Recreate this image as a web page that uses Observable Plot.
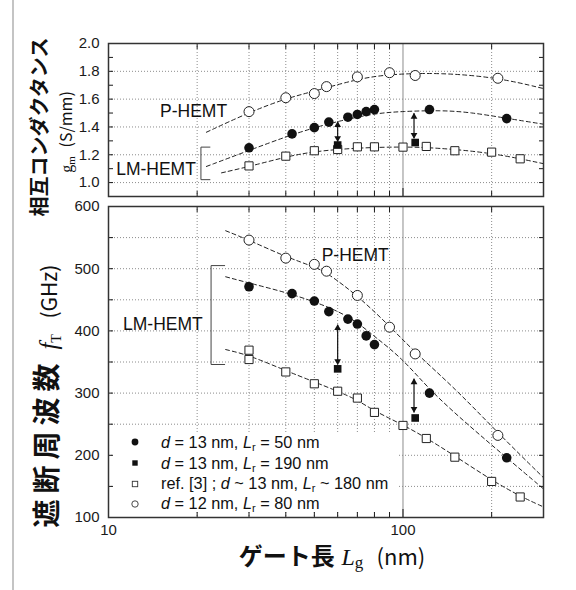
<!DOCTYPE html>
<html><head><meta charset="utf-8">
<script src="https://cdn.jsdelivr.net/npm/d3@7"></script>
<script src="https://cdn.jsdelivr.net/npm/@observablehq/plot@0.6"></script>
<style>
body{margin:0;background:#fff;}
#fig{position:relative;width:576px;height:590px;overflow:hidden;font-family:"Liberation Sans",Arial,sans-serif;color:#111;background:#fff;}
.rot{position:absolute;transform:translate(-50%,-50%) rotate(-90deg);white-space:nowrap;line-height:1;}
.abs{position:absolute;white-space:nowrap;line-height:1;}
.cjk{font-family:"Noto Sans CJK JP",sans-serif;}
.serif{font-family:"Liberation Serif",serif;}
.sub{font-size:68%;position:relative;top:0.3em;}
#legend{position:absolute;left:113px;top:432px;width:284px;height:79px;background:#fff;font-size:16.3px;}
#legend .row{position:absolute;left:0;height:18px;display:flex;align-items:center;}
#legend svg{margin-left:17px;margin-right:21px;}
</style></head><body><div id="fig"></div>
<script>
// ---------- data ----------
// gate length Lg (nm) on x; transconductance gm (S/mm) top; cutoff frequency fT (GHz) bottom
const gmOpenCircleX = [30, 40, 50, 55, 70, 90, 110, 210];
const gmOpenCircleY = [1.51, 1.61, 1.64, 1.69, 1.76, 1.79, 1.77, 1.75];
const gmFilledCircleX = [30, 42, 50, 56, 65, 70, 75, 80, 123, 225];
const gmFilledCircleY = [1.25, 1.35, 1.395, 1.435, 1.47, 1.49, 1.51, 1.525, 1.525, 1.46];
const gmFilledSquareX = [60, 110];
const gmFilledSquareY = [1.27, 1.288];
const gmOpenSquareX = [30, 40, 50, 60, 70, 80, 100, 120, 150, 200, 250];
const gmOpenSquareY = [1.12, 1.19, 1.229, 1.238, 1.257, 1.257, 1.255, 1.26, 1.229, 1.219, 1.171];

const gmFitPX = [21.5, 30, 40, 50, 70, 90, 135, 210, 300];
const gmFitPY = [1.362, 1.505, 1.605, 1.657, 1.745, 1.78, 1.79, 1.755, 1.676];
const gmFitLMX = [21.5, 30, 40, 50, 60, 80, 100, 135, 170, 225, 300];
const gmFitLMY = [1.116, 1.231, 1.33, 1.395, 1.44, 1.498, 1.512, 1.52, 1.505, 1.462, 1.42];
const gmFitRefX = [24.2, 30, 40, 50, 70, 100, 130, 200, 300];
const gmFitRefY = [1.07, 1.115, 1.185, 1.225, 1.25, 1.258, 1.25, 1.215, 1.136];

const gmArrowX = [60, 109];
const gmArrowTop = [1.438, 1.498];
const gmArrowBottom = [1.295, 1.319];

const ftOpenCircleX = [30, 40, 50, 55, 70, 90, 110, 210];
const ftOpenCircleY = [546, 517, 507, 496, 457, 406, 363, 232];
const ftFilledCircleX = [30, 42, 50, 56, 65, 70, 75, 80, 123, 225];
const ftFilledCircleY = [471, 460, 448, 431, 419, 411, 392, 378, 300, 196];
const ftFilledSquareX = [60, 110];
const ftFilledSquareY = [339, 260];
const ftOpenSquareX = [30, 30, 40, 50, 60, 70, 80, 100, 120, 150, 200, 250];
const ftOpenSquareY = [369, 354, 334, 315, 303, 292, 269, 248, 227, 197, 158, 133];

const ftFitPX = [25, 30, 40, 50, 55, 70, 90, 110, 150, 210, 300];
const ftFitPY = [561, 546, 519, 503, 494, 457, 408, 365, 308, 236, 164];
const ftFitLMX = [25, 30, 40, 50, 60, 70, 80, 100, 124, 170, 225, 300];
const ftFitLMY = [487, 477, 462, 447, 432, 414, 391, 355, 303, 245, 196, 146];
const ftFitRefX = [25, 30, 40, 50, 60, 70, 80, 100, 120, 150, 200, 250, 300];
const ftFitRefY = [370, 361, 336, 318, 303, 289, 271, 249, 228, 199, 160, 134, 117];

const ftArrowX = [60, 109];
const ftArrowTop = [410, 323];
const ftArrowBottom = [346, 269];

// annotations (data coordinates)
const gmLabels = ["P-HEMT", "LM-HEMT"];
const gmLabelX = [19.45, 14.5];
const gmLabelY = [1.509, 1.093];
const gmBracketX = [22.1, 20.6, 20.6, 22.1];
const gmBracketY = [1.255, 1.255, 1.021, 1.021];
const ftLabels = ["P-HEMT", "LM-HEMT"];
const ftLabelX = [68.8, 15.3];
const ftLabelY = [521, 411];
const ftBracketX = [24.8, 22.3, 22.3, 24.8];
const ftBracketY = [505, 505, 346, 346];

// ticks
const xGridTicks = [20, 30, 40, 50, 60, 70, 80, 90, 200];
const xLabelTicks = [10, 100];
const gmLabelTicks = [1.0, 1.2, 1.4, 1.6, 1.8, 2.0];
const gmMinorTicks = [1.0, 1.1, 1.2, 1.3, 1.4, 1.5, 1.6, 1.7, 1.8, 1.9];
const gmGridTicks = [1.0, 1.2, 1.4, 1.6, 1.8];
const ftLabelTicks = [100, 200, 300, 400, 500, 600];
const ftMinorTicks = [150, 200, 250, 300, 350, 400, 450, 500, 550];
const ftGridTicks = [150, 200, 250, 300, 350, 400, 450, 500, 550];

const legendItems = [
  {sym: "filledCircle", html: '<i>d</i> = 13 nm, <i>L</i><span class="sub">r</span> = 50 nm'},
  {sym: "filledSquare", html: '<i>d</i> = 13 nm, <i>L</i><span class="sub">r</span> = 190 nm'},
  {sym: "openSquare", html: 'ref. [3] ; <i>d</i> ~ 13 nm, <i>L</i><span class="sub">r</span> ~ 180 nm'},
  {sym: "openCircle", html: '<i>d</i> = 12 nm, <i>L</i><span class="sub">r</span> = 80 nm'}
];

// ---------- drawing ----------
const W = 576;
const fig = document.getElementById("fig");
const gridStyle = {stroke: "#8c8c8c", strokeOpacity: 1, strokeWidth: 1, strokeDasharray: "1,2"};
const fitStyle = {stroke: "#222", strokeWidth: 1, strokeDasharray: "4,3", curve: "basis"};
const plotStyle = {fontFamily: '"Liberation Sans", Arial, sans-serif', fontSize: "15px", color: "#1a1a1a", background: "transparent", overflow: "visible"};

function arrowMarks(xs, y1s, y2s) {
  return [
    Plot.link(xs, {x1: xs, x2: xs, y1: y1s, y2: y2s, stroke: "#111", strokeWidth: 1.2}),
    Plot.dot(xs, {x: xs, y: y1s, symbol: "triangle", r: 2.5, fill: "#111", stroke: "none", dy: 3.4}),
    Plot.dot(xs, {x: xs, y: y2s, symbol: "triangle", r: 2.5, fill: "#111", stroke: "none", dy: -3.4, rotate: 180})
  ];
}
function dotMarks(oc, ocY, fc, fcY, fs, fsY, os, osY) {
  return [
    Plot.dot(os, {x: os, y: osY, symbol: "square", r: 4.6, fill: "white", stroke: "#222", strokeWidth: 1}),
    Plot.dot(fs, {x: fs, y: fsY, symbol: "square", r: 4.3, fill: "#111", stroke: "none"}),
    Plot.dot(oc, {x: oc, y: ocY, r: 5, fill: "white", stroke: "#222", strokeWidth: 1}),
    Plot.dot(fc, {x: fc, y: fcY, r: 4.8, fill: "#111", stroke: "none"})
  ];
}
function frameTicks(yMinor) {
  const blank = () => "";
  return [
    Plot.axisY(yMinor, {anchor: "left", tickSize: 5, dx: 5, tickFormat: blank, label: null}),
    Plot.axisY(yMinor, {anchor: "right", tickSize: 5, dx: -5, tickFormat: blank, label: null}),
    Plot.axisX(xGridTicks, {anchor: "bottom", tickSize: 5, dy: -5, tickFormat: blank, label: null}),
    Plot.axisX([100], {anchor: "bottom", tickSize: 8, dy: -8, tickFormat: blank, label: null}),
    Plot.axisX(xGridTicks, {anchor: "top", tickSize: 5, dy: 5, tickFormat: blank, label: null})
  ];
}

const topPlot = Plot.plot({
  width: W, height: 200, marginLeft: 108, marginRight: 33, marginTop: 43, marginBottom: 4,
  x: {type: "log", domain: [10, 300]},
  y: {domain: [0.9, 2.0]},
  style: plotStyle,
  marks: [
    Plot.gridX(xGridTicks, gridStyle),
    Plot.gridY(gmGridTicks, gridStyle),
    Plot.ruleX([100], {stroke: "#8c8c8c", strokeWidth: 1}),
    Plot.line(gmFitPX, {x: gmFitPX, y: gmFitPY, ...fitStyle}),
    Plot.line(gmFitLMX, {x: gmFitLMX, y: gmFitLMY, ...fitStyle}),
    Plot.line(gmFitRefX, {x: gmFitRefX, y: gmFitRefY, ...fitStyle}),
    Plot.line(gmBracketX, {x: gmBracketX, y: gmBracketY, stroke: "#444", strokeWidth: 1, curve: "linear"}),
    Plot.text(gmLabels, {x: gmLabelX, y: gmLabelY, text: gmLabels, fontSize: 17.5, fill: "#111"}),
    ...arrowMarks(gmArrowX, gmArrowTop, gmArrowBottom),
    ...dotMarks(gmOpenCircleX, gmOpenCircleY, gmFilledCircleX, gmFilledCircleY, gmFilledSquareX, gmFilledSquareY, gmOpenSquareX, gmOpenSquareY),
    Plot.axisY(gmLabelTicks, {anchor: "left", tickSize: 0, tickPadding: 9, tickFormat: d => d.toFixed(1), label: null}),
    ...frameTicks(gmMinorTicks),
    Plot.frame({stroke: "#333", strokeWidth: 1.5})
  ]
});

const bottomPlot = Plot.plot({
  width: W, height: 390, marginLeft: 108, marginRight: 33, marginTop: 6, marginBottom: 73,
  x: {type: "log", domain: [10, 300]},
  y: {domain: [100, 600]},
  style: plotStyle,
  marks: [
    Plot.gridX(xGridTicks, gridStyle),
    Plot.gridY(ftGridTicks, gridStyle),
    Plot.ruleX([100], {stroke: "#8c8c8c", strokeWidth: 1}),
    Plot.line(ftFitPX, {x: ftFitPX, y: ftFitPY, ...fitStyle}),
    Plot.line(ftFitLMX, {x: ftFitLMX, y: ftFitLMY, ...fitStyle}),
    Plot.line(ftFitRefX, {x: ftFitRefX, y: ftFitRefY, ...fitStyle}),
    Plot.line(ftBracketX, {x: ftBracketX, y: ftBracketY, stroke: "#444", strokeWidth: 1, curve: "linear"}),
    Plot.text(ftLabels, {x: ftLabelX, y: ftLabelY, text: ftLabels, fontSize: 17.5, fill: "#111"}),
    ...arrowMarks(ftArrowX, ftArrowTop, ftArrowBottom),
    ...dotMarks(ftOpenCircleX, ftOpenCircleY, ftFilledCircleX, ftFilledCircleY, ftFilledSquareX, ftFilledSquareY, ftOpenSquareX, ftOpenSquareY),
    Plot.axisY(ftLabelTicks, {anchor: "left", tickSize: 0, tickPadding: 9, label: null}),
    Plot.axisX(xLabelTicks, {anchor: "bottom", tickSize: 0, tickPadding: 7, tickFormat: d => String(d), label: null}),
    ...frameTicks(ftMinorTicks),
    Plot.frame({stroke: "#333", strokeWidth: 1.5})
  ]
});

function place(el, top) {
  el.style.position = "absolute";
  el.style.left = "0px";
  el.style.top = top + "px";
  fig.appendChild(el);
}
place(topPlot, 0);
place(bottomPlot, 200);

// left border line of the figure
const border = document.createElement("div");
border.style.cssText = "position:absolute;left:12px;top:0;width:2px;height:590px;background:#c4c4c4;";
fig.appendChild(border);

// legend
const legend = document.createElement("div");
legend.id = "legend";
const rowTops = [1, 22, 42.5, 62.5];
function symbolSvg(kind) {
  const s = {
    filledCircle: '<circle cx="5" cy="5" r="3.4" fill="#111"/>',
    filledSquare: '<rect x="2.3" y="2.3" width="5.4" height="5.4" fill="#111"/>',
    openSquare: '<rect x="2.3" y="2.3" width="5.4" height="5.4" fill="#fff" stroke="#333" stroke-width="0.9"/>',
    openCircle: '<circle cx="5" cy="5" r="3.2" fill="#fff" stroke="#333" stroke-width="0.9"/>'
  }[kind];
  return '<svg width="10" height="10" viewBox="0 0 10 10">' + s + '</svg>';
}
legendItems.forEach((it, i) => {
  const r = document.createElement("div");
  r.className = "row";
  r.style.top = rowTops[i] + "px";
  r.innerHTML = symbolSvg(it.sym) + '<span>' + it.html + '</span>';
  legend.appendChild(r);
});
fig.appendChild(legend);

// axis titles
function addHTML(cls, style, html) {
  const d = document.createElement("div");
  d.className = cls;
  d.style.cssText = style;
  d.innerHTML = html;
  fig.appendChild(d);
}
addHTML("rot cjk", "left:39px;top:127px;font-size:20px;font-weight:700;", "相互コンダクタンス");
addHTML("rot", "left:66px;top:132px;font-size:16px;", '<span class="serif">g<span class="sub">m</span></span>&nbsp;&nbsp;<span class="cjk">(S/mm)</span>');
addHTML("rot", "left:46px;top:396px;font-size:28px;", '<span class="cjk" style="font-weight:700;letter-spacing:6px;">遮断周波数</span>&nbsp;<span class="serif" style="font-style:italic;font-size:25px;">f</span><span class="serif sub" style="font-size:14px;">T</span>&nbsp;&nbsp;<span class="cjk" style="font-size:21px;">(GHz)</span>');
addHTML("abs", "left:332px;top:556px;transform:translate(-50%,-50%);font-size:24px;", '<span class="cjk" style="font-weight:700;">ゲート長</span>&nbsp;<span class="serif" style="font-style:italic;font-size:24px;">L</span><span class="serif sub" style="font-size:17px;top:0.15em;">g</span>&nbsp;&nbsp;<span class="cjk" style="font-size:22px;">(nm)</span>');
</script>
</body></html>
